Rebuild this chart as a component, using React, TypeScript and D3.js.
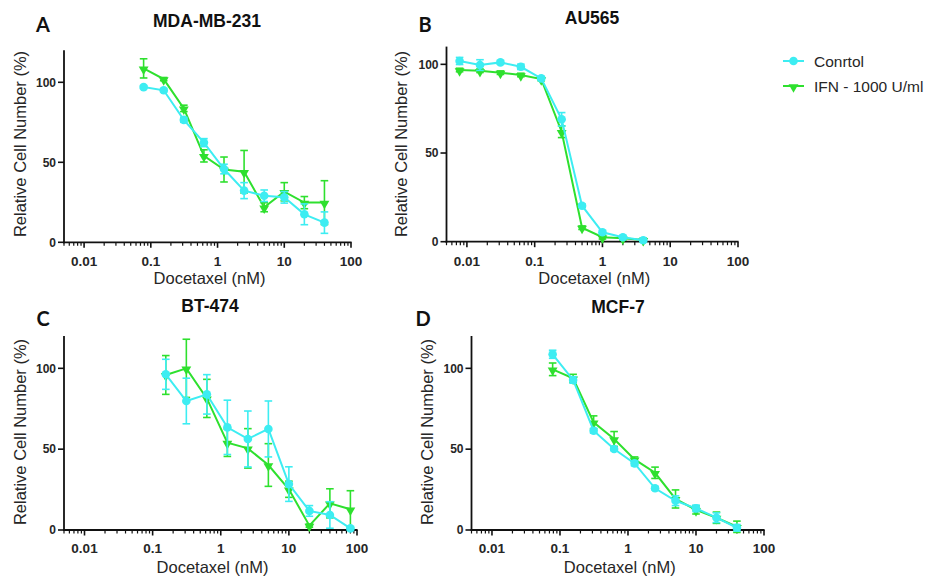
import React from "react";
import * as d3 from "d3";

// ---------- DATA ----------
const dosesA = [0.078, 0.156, 0.3125, 0.625, 1.25, 2.5, 5, 10, 20, 40];
const ctrlA = [97, 95, 76.5, 62.3, 45.8, 32.3, 29.1, 28.1, 17.5, 12.3];
const ctrlErrA = [1, 1, 1.5, 2.5, 3, 5, 3.6, 3.6, 6.5, 6.7];
const ifnA = [108.7, 102, 83.7, 54, 45.5, 44.1, 21.9, 31.6, 24.8, 24.8];
const ifnErrA = [6, 1, 2, 3.8, 7.8, 13.3, 2.8, 5.7, 3.8, 13.7];

const dosesB = [0.0078, 0.0156, 0.03125, 0.0625, 0.125, 0.25, 0.5, 1, 2, 4];
const ctrlB = [101.9, 99.6, 101.1, 98.6, 92.1, 69, 20.3, 5.3, 2.5, 0.8];
const ctrlErrB = [2, 3, 1, 1.5, 1, 3.8, 1, 1, 1, 1];
const ifnB = [96.8, 96.4, 95.3, 94, 91.7, 62, 7.9, 2.5, 1.9, 1];
const ifnErrB = [1, 1, 1, 1, 1, 3.3, 1, 1, 1, 1];

const dosesC = [0.156, 0.3125, 0.625, 1.25, 2.5, 5, 10, 20, 40, 80];
const ctrlC = [96.3, 79.8, 83.9, 63.5, 56.3, 62.5, 28.4, 11.8, 9.3, 1.0];
const ctrlErrC = [9.3, 14.1, 12.2, 16.8, 17.3, 17.3, 10.7, 3.3, 8.2, 1];
const ifnC = [95.9, 100, 81.4, 54, 50.5, 40.2, 25.2, 2.7, 16.5, 12.8];
const ifnErrC = [12, 18, 11.8, 8.5, 12.2, 13.2, 5, 1, 9, 11.5];

const dosesD = [0.078, 0.156, 0.3125, 0.625, 1.25, 2.5, 5, 10, 20, 40];
const ctrlD = [108.7, 92.8, 61.4, 50.1, 41.2, 25.8, 18.1, 13.4, 7.6, 1.4];
const ctrlErrD = [2.5, 2, 1.5, 1, 1.5, 1, 3, 2, 3, 2];
const ifnD = [99.4, 93.8, 66.6, 56.3, 43.7, 35.4, 19.2, 12.4, 7.6, 2];
const ifnErrD = [3.9, 2.5, 4, 4.6, 1.5, 3.5, 5.6, 2.5, 3.5, 3.5];

const xTickValues = [0.01, 0.1, 1, 10, 100];
const xTickLabels = ["0.01", "0.1", "1", "10", "100"];
const yTickValues = [0, 50, 100];
const seriesNames = ["Conrtol", "IFN - 1000 U/ml"];
const panelTitles = ["MDA-MB-231", "AU565", "BT-474", "MCF-7"];
const panelLetters = ["A", "B", "C", "D"];
const xAxisTitle = "Docetaxel (nM)";
const yAxisTitle = "Relative Cell Number (%)";

// ---------- STYLE ----------
const CYAN = "#3DEDF2";
const GREEN = "#2EE02E";
const AXIS = "#111";
const TEXT = "#262626";
const FONT = "'Liberation Sans', Arial, Helvetica, sans-serif";

type PanelProps = {
  idx: number;
  x0: number; x1: number; yBottom: number; yTop: number; yMax: number;
  doses: number[]; ctrl: number[]; ctrlErr: number[]; ifn: number[]; ifnErr: number[];
  titleX: number; titleY: number; letterX: number; letterY: number;
  yTitleX: number; yTitleY: number; xTickY: number; xTitleY: number;
};

const minorTicks: { v: number; major: boolean }[] = [];
for (let e = -3; e <= 2; e++) {
  for (let k = 1; k <= 9; k++) {
    const v = k * Math.pow(10, e);
    if (v >= 0.005 - 1e-9 && v <= 100 + 1e-9) minorTicks.push({ v, major: k === 1 });
  }
}

function Panel(p: PanelProps) {
  const x = d3.scaleLog().domain([0.005, 100]).range([p.x0, p.x1]);
  const y = d3.scaleLinear().domain([0, p.yMax]).range([p.yBottom, p.yTop]);
  const line = d3.line<[number, number]>().x((d) => x(d[0])).y((d) => y(d[1]));
  const tri = d3.symbol().type(d3.symbolTriangle).size(42)()!;
  const capW = 3.8;

  const series = [
    { vals: p.ifn, errs: p.ifnErr, color: GREEN, marker: "tri" },
    { vals: p.ctrl, errs: p.ctrlErr, color: CYAN, marker: "circle" },
  ];

  return (
    <g>
      {/* axes */}
      <line x1={p.x0} x2={p.x0} y1={p.yTop} y2={p.yBottom + 0.9} stroke={AXIS} strokeWidth={1.8} />
      <line x1={p.x0 - 0.9} x2={p.x1 + 0.6} y1={p.yBottom} y2={p.yBottom} stroke={AXIS} strokeWidth={1.8} />
      {minorTicks.map((t, i) => (
        <line key={i} x1={x(t.v)} x2={x(t.v)} y1={p.yBottom} y2={p.yBottom + (t.major ? 5.5 : 3.5)}
          stroke={AXIS} strokeWidth={t.major ? 1.6 : 1.2} />
      ))}
      {xTickValues.map((v, i) => (
        <text key={i} x={x(v)} y={p.xTickY} textAnchor="middle" fontFamily={FONT} fontWeight="bold"
          fontSize={13.5} fill={TEXT}>{xTickLabels[i]}</text>
      ))}
      {yTickValues.map((v, i) => (
        <g key={i}>
          <line x1={p.x0 - 6} x2={p.x0} y1={y(v)} y2={y(v)} stroke={AXIS} strokeWidth={1.6} />
          <text x={p.x0 - 8} y={y(v)} dy="0.36em" textAnchor="end" fontFamily={FONT} fontWeight="bold"
            fontSize={12} fill={TEXT}>{v}</text>
        </g>
      ))}
      <text x={(p.x0 + p.x1) / 2 + 2} y={p.xTitleY} textAnchor="middle" fontFamily={FONT} fontSize={16.5}
        fill={TEXT}>{xAxisTitle}</text>
      <text transform={`translate(${p.yTitleX},${p.yTitleY}) rotate(-90)`} textAnchor="middle" fontFamily={FONT}
        fontSize={16.5} fill={TEXT}>{yAxisTitle}</text>
      <text x={p.titleX} y={p.titleY} textAnchor="middle" fontFamily={FONT} fontWeight="bold" fontSize={17.5}
        fill="#111">{panelTitles[p.idx]}</text>
      <text x={p.letterX} y={p.letterY} textAnchor="middle" fontFamily="Lato, 'Open Sans', sans-serif"
        fontWeight="bold" fontSize={20} fill="#111">{panelLetters[p.idx]}</text>

      {/* series */}
      {series.map((s, si) => (
        <g key={si}>
          {p.doses.map((d, i) => (
            <g key={i} stroke={s.color} strokeWidth={1.6}>
              <line x1={x(d)} x2={x(d)} y1={y(s.vals[i] - s.errs[i])} y2={y(s.vals[i] + s.errs[i])} />
              <line x1={x(d) - capW} x2={x(d) + capW} y1={y(s.vals[i] + s.errs[i])} y2={y(s.vals[i] + s.errs[i])} />
              <line x1={x(d) - capW} x2={x(d) + capW} y1={y(s.vals[i] - s.errs[i])} y2={y(s.vals[i] - s.errs[i])} />
            </g>
          ))}
          <path d={line(p.doses.map((d, i) => [d, s.vals[i]] as [number, number])) || ""} fill="none"
            stroke={s.color} strokeWidth={2} />
          {p.doses.map((d, i) =>
            s.marker === "circle" ? (
              <circle key={i} cx={x(d)} cy={y(s.vals[i])} r={4.3} fill={s.color} />
            ) : (
              <path key={i} d={tri} transform={`translate(${x(d)},${y(s.vals[i]) + 1}) rotate(180)`} fill={s.color} />
            )
          )}
        </g>
      ))}
    </g>
  );
}

export default function App() {
  const tri = d3.symbol().type(d3.symbolTriangle).size(42)()!;
  return (
    <svg width={929} height={581} style={{ position: "fixed", left: 0, top: 0, background: "#fff" }}>
      <rect x={0} y={0} width={929} height={581} fill="#fff" />
      <Panel idx={0} x0={64} x1={351} yBottom={242.3} yTop={50.3} yMax={120}
        doses={dosesA} ctrl={ctrlA} ctrlErr={ctrlErrA} ifn={ifnA} ifnErr={ifnErrA}
        titleX={207} titleY={26.5} letterX={43} letterY={31.5} yTitleX={26} yTitleY={144}
        xTickY={266} xTitleY={284} />
      <Panel idx={1} x0={446.5} x1={738} yBottom={241.7} yTop={46.6} yMax={110}
        doses={dosesB} ctrl={ctrlB} ctrlErr={ctrlErrB} ifn={ifnB} ifnErr={ifnErrB}
        titleX={592} titleY={23.5} letterX={425} letterY={31.5} yTitleX={407} yTitleY={144}
        xTickY={265.5} xTitleY={284} />
      <Panel idx={2} x0={64} x1={357} yBottom={530} yTop={336} yMax={120}
        doses={dosesC} ctrl={ctrlC} ctrlErr={ctrlErrC} ifn={ifnC} ifnErr={ifnErrC}
        titleX={210} titleY={312} letterX={43} letterY={326} yTitleX={26} yTitleY={432}
        xTickY={552.5} xTitleY={573} />
      <Panel idx={3} x0={471.5} x1={764} yBottom={530} yTop={336} yMax={120}
        doses={dosesD} ctrl={ctrlD} ctrlErr={ctrlErrD} ifn={ifnD} ifnErr={ifnErrD}
        titleX={618} titleY={312.5} letterX={423} letterY={326} yTitleX={433} yTitleY={432}
        xTickY={552.5} xTitleY={573} />

      {/* legend */}
      <g>
        <line x1={783} x2={804} y1={61} y2={61} stroke={CYAN} strokeWidth={2} />
        <circle cx={793.5} cy={61} r={4.3} fill={CYAN} />
        <text x={814} y={61} dy="0.36em" fontFamily={FONT} fontSize={15.5} fill={TEXT}>{seriesNames[0]}</text>
        <line x1={783} x2={804} y1={86} y2={86} stroke={GREEN} strokeWidth={2} />
        <path d={tri} transform={`translate(793.5,87) rotate(180)`} fill={GREEN} />
        <text x={814} y={86} dy="0.36em" fontFamily={FONT} fontSize={15.5} fill={TEXT}>{seriesNames[1]}</text>
      </g>
    </svg>
  );
}
